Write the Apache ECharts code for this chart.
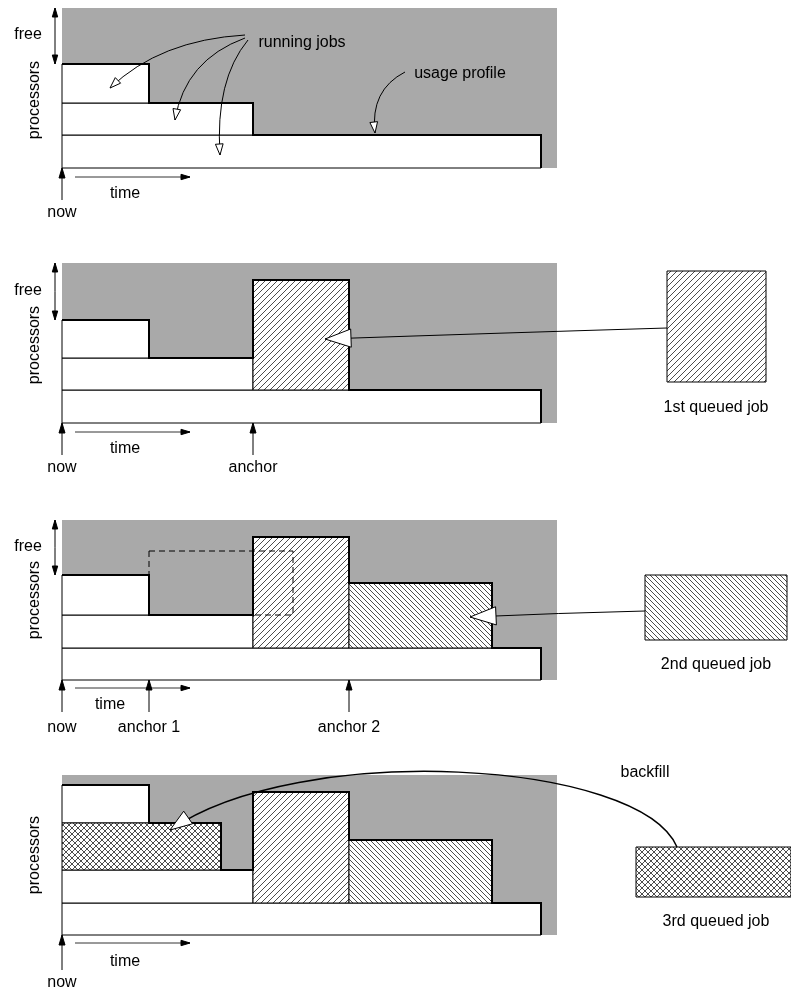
<!DOCTYPE html>
<html>
<head>
<meta charset="utf-8">
<script src="https://cdn.jsdelivr.net/npm/echarts@6/dist/echarts.min.js"></script>
<style>html,body{margin:0;padding:0;background:#fff}#chart{width:791px;height:997px}</style>
</head>
<body>
<div id="chart"></div>
<script>
// panel top offsets (gray area top) and shared geometry, in diagram units (x: 0..791, y: 0..997 downward)
const panelTops = [8, 263, 520, 775];
const grayX = [62, 557];
const grayH = 160;
// running job rectangles [x0, y0, x1, y1] per panel
const runningJobs = [
  [[62, 135, 541, 168], [62, 103, 253, 135], [62, 64, 149, 103]],
  [[62, 390, 541, 423], [62, 358, 253, 390], [62, 320, 149, 358]],
  [[62, 648, 541, 680], [62, 615, 253, 648], [62, 575, 149, 615]],
  [[62, 903, 541, 935], [62, 870, 253, 903], [62, 785, 149, 823]]
];
// usage profiles (thick lines)
const profiles = [
  [[62, 64], [149, 64], [149, 103], [253, 103], [253, 135], [541, 135], [541, 168]],
  [[62, 320], [149, 320], [149, 358], [253, 358], [253, 280], [349, 280], [349, 390], [541, 390], [541, 423]],
  [[62, 575], [149, 575], [149, 615], [253, 615], [253, 537], [349, 537], [349, 583], [492, 583], [492, 648], [541, 648], [541, 680]],
  [[62, 785], [149, 785], [149, 823], [221, 823], [221, 870], [253, 870], [253, 792], [349, 792], [349, 840], [492, 840], [492, 903], [541, 903], [541, 935]]
];
// scheduled queued jobs [x0, y0, x1, y1, pattern]
const scheduledJobs = [
  [253, 280, 349, 390, 'fwd'],
  [253, 537, 349, 648, 'fwd'], [349, 583, 492, 648, 'back'],
  [253, 792, 349, 903, 'fwd'], [349, 840, 492, 903, 'back'], [62, 823, 221, 870, 'cross']
];
// queue boxes on the right
const queueBoxes = [
  [667, 271, 766, 382, 'fwd'],
  [645, 575, 787, 640, 'back'],
  [636, 847, 791, 897, 'cross']
];
const queueLabels = [['1st queued job', 716, 408], ['2nd queued job', 716, 665], ['3rd queued job', 716, 922]];
// axis marker arrows [x, yFrom, yTo]
const upArrows = [[62, 200, 168], [62, 455, 423], [253, 455, 423], [62, 712, 680], [149, 712, 680], [349, 712, 680], [62, 970, 935]];
const timeArrowsY = [177, 432, 688, 943];
const timeLabels = [[125, 194], [125, 449], [110, 705], [125, 962]];
const markerLabels = [['now', 62, 213], ['now', 62, 468], ['anchor', 253, 468], ['now', 62, 728], ['anchor 1', 149, 728], ['anchor 2', 349, 728], ['now', 62, 983]];
const freeArrows = [[55, 8, 64], [55, 263, 320], [55, 520, 575]];
const freeLabels = [[28, 35], [28, 291], [28, 547]];
const processorLabelY = [100, 345, 600, 855];
// curved annotation arrows: [start, control, end, head, size]
const curves = [
  [[245, 35], [160, 40], [110, 88], 'open', 11],
  [[245, 38], [185, 60], [175, 120], 'open', 11],
  [[248, 40], [215, 80], [220, 155], 'open', 11],
  [[405, 72], [370, 90], [375, 133], 'open', 11],
  [[667, 328], [500, 333], [325, 339], 'open', 26],
  [[645, 611], [560, 613], [470, 617], 'open', 26],
  [[677, 847], [620, 720], [170, 830], 'open', 22]
];
const curveCtrl2 = [null, null, null, null, null, null, [[640, 760], [300, 740]]];
const annotations = [['running jobs', 302, 43], ['usage profile', 460, 74], ['backfill', 645, 773]];
const dashedBox = [149, 551, 293, 615];

function hatch(kind, step) {
  const c = document.createElement('canvas');
  c.width = c.height = step;
  const g = c.getContext('2d');
  g.fillStyle = '#fff'; g.fillRect(0, 0, step, step);
  g.strokeStyle = '#000'; g.lineWidth = 0.7;
  g.beginPath();
  if (kind === 'fwd' || kind === 'cross') {
    g.moveTo(-1, step + 1); g.lineTo(step + 1, -1);
    g.moveTo(-1, 1); g.lineTo(1, -1);
    g.moveTo(step - 1, step + 1); g.lineTo(step + 1, step - 1);
  }
  if (kind === 'back' || kind === 'cross') {
    g.moveTo(-1, -1); g.lineTo(step + 1, step + 1);
    g.moveTo(step - 1, -1); g.lineTo(step + 1, 1);
    g.moveTo(-1, step - 1); g.lineTo(1, step + 1);
  }
  g.stroke();
  return {type: 'pattern', image: c, repeat: 'repeat'};
}
const patterns = {fwd: hatch('fwd', 6), back: hatch('back', 5), cross: hatch('cross', 6)};

const FONT = '16px "Liberation Sans", Arial, sans-serif';
const els = [];
panelTops.forEach(t => els.push({k: 'rect', r: [grayX[0], t, grayX[1], t + grayH], fill: '#a9a9a9', lw: 0}));
runningJobs.forEach(p => p.forEach(r => els.push({k: 'rect', r, fill: '#fff', lw: 1})));
scheduledJobs.forEach(j => els.push({k: 'rect', r: j.slice(0, 4), fill: patterns[j[4]], lw: 1}));
queueBoxes.forEach(j => els.push({k: 'rect', r: j.slice(0, 4), fill: patterns[j[4]], lw: 1}));
els.push({k: 'rect', r: dashedBox, fill: 'none', lw: 1, dash: [6, 4]});
profiles.forEach(p => els.push({k: 'poly', pts: p, lw: 2}));
upArrows.forEach(a => els.push({k: 'curve', pts: [[a[0], a[1]], null, [a[0], a[2]]], head: 'solid', size: 10}));
timeArrowsY.forEach(y => els.push({k: 'curve', pts: [[75, y], null, [190, y]], head: 'solid', size: 9, lw: 0.8}));
freeArrows.forEach(a => {
  const m = (a[1] + a[2]) / 2;
  els.push({k: 'curve', pts: [[a[0], m], null, [a[0], a[1]]], head: 'solid', size: 9});
  els.push({k: 'curve', pts: [[a[0], m], null, [a[0], a[2]]], head: 'solid', size: 9});
});
curves.forEach((c, i) => els.push({k: 'curve', pts: [c[0], c[1], c[2]], c2: curveCtrl2[i], head: c[3], size: c[4], lw: i === 6 ? 1.5 : 1}));
timeLabels.forEach(p => els.push({k: 'text', t: 'time', at: p}));
markerLabels.forEach(p => els.push({k: 'text', t: p[0], at: [p[1], p[2]]}));
freeLabels.forEach(p => els.push({k: 'text', t: 'free', at: p}));
processorLabelY.forEach(y => els.push({k: 'text', t: 'processors', at: [35, y], rot: Math.PI / 2}));
queueLabels.forEach(p => els.push({k: 'text', t: p[0], at: [p[1], p[2]]}));
annotations.forEach(p => els.push({k: 'text', t: p[0], at: [p[1], p[2]]}));

function head(api, tip, from, kind, size) {
  const dx = tip[0] - from[0], dy = tip[1] - from[1];
  const L = Math.hypot(dx, dy) || 1, ux = dx / L, uy = dy / L;
  const w = kind === 'open' ? size * 0.35 : size * 0.3;
  const bx = tip[0] - ux * size, by = tip[1] - uy * size;
  return {type: 'polygon', shape: {points: [tip, [bx - uy * w, by + ux * w], [bx + uy * w, by - ux * w]]},
    style: {fill: kind === 'open' ? '#fff' : '#000', stroke: '#000', lineWidth: 1}};
}

function renderItem(params, api) {
  const e = els[params.dataIndex];
  if (e.k === 'rect') {
    const a = api.coord([e.r[0], e.r[1]]), b = api.coord([e.r[2], e.r[3]]);
    return {type: 'rect', shape: {x: a[0], y: a[1], width: b[0] - a[0], height: b[1] - a[1]},
      style: {fill: e.fill, stroke: e.lw ? '#000' : null, lineWidth: e.lw, lineDash: e.dash || null}};
  }
  if (e.k === 'poly') {
    return {type: 'polyline', shape: {points: e.pts.map(p => api.coord(p))}, style: {stroke: '#000', lineWidth: e.lw, fill: null}};
  }
  if (e.k === 'curve') {
    const s = api.coord(e.pts[0]), t = api.coord(e.pts[2]);
    const children = [];
    let from;
    if (e.c2) {
      const c1 = api.coord(e.c2[0]), c2 = api.coord(e.c2[1]);
      children.push({type: 'bezierCurve', shape: {x1: s[0], y1: s[1], cpx1: c1[0], cpy1: c1[1], cpx2: c2[0], cpy2: c2[1], x2: t[0], y2: t[1]},
        style: {stroke: '#000', lineWidth: e.lw || 1, fill: null}});
      from = c2;
    } else if (e.pts[1]) {
      const c = api.coord(e.pts[1]);
      children.push({type: 'bezierCurve', shape: {x1: s[0], y1: s[1], cpx1: c[0], cpy1: c[1], x2: t[0], y2: t[1]},
        style: {stroke: '#000', lineWidth: e.lw || 1, fill: null}});
      from = c;
    } else {
      children.push({type: 'line', shape: {x1: s[0], y1: s[1], x2: t[0], y2: t[1]}, style: {stroke: '#000', lineWidth: e.lw || 1}});
      from = s;
    }
    children.push(head(api, t, from, e.head, e.size));
    return {type: 'group', children};
  }
  const p = api.coord(e.at);
  return {type: 'text', x: p[0], y: p[1], rotation: e.rot || 0,
    style: {text: e.t, font: FONT, fill: '#000', align: 'center', verticalAlign: 'middle'}};
}

const chart = echarts.init(document.getElementById('chart'));
chart.setOption({
  animation: false,
  grid: {left: 0, right: 0, top: 0, bottom: 0},
  xAxis: {type: 'value', min: 0, max: 791, show: false},
  yAxis: {type: 'value', min: 0, max: 997, inverse: true, show: false},
  series: [{type: 'custom', renderItem, data: els.map((e, i) => [i]), clip: false, silent: true}]
});
</script>
</body>
</html>
